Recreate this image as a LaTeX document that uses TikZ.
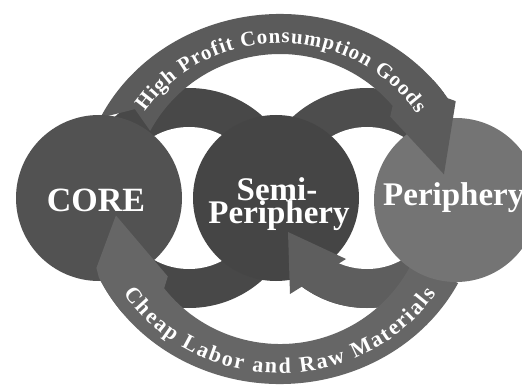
\documentclass[tikz,border=0pt]{standalone}
\usepackage{fontspec}
\setmainfont{Liberation Serif}
\usetikzlibrary{decorations.text}
\definecolor{cBandT}{HTML}{5B5B5B}
\definecolor{cBandB}{HTML}{666666}
\definecolor{cCore}{HTML}{525252}
\definecolor{cSemi}{HTML}{454545}
\definecolor{cPer}{HTML}{747474}
\definecolor{cRingL}{HTML}{484848}
\definecolor{cRingRt}{HTML}{4D4D4D}
\definecolor{cRingRb}{HTML}{5E5E5E}
\newcommand\topbandfont{\bfseries\fontsize{21}{21}\selectfont\color{white}}
\newcommand\botbandfont{\bfseries\fontsize{22}{22}\selectfont\color{white}}
\begin{document}
\begin{tikzpicture}[x=1pt,y=1pt,
  lbl/.style={text=white,font=\bfseries\fontsize{33}{33}\selectfont,inner sep=0pt},
  corelbl/.style={text=white,font=\bfseries\fontsize{34}{34}\selectfont,inner sep=0pt}]
\useasboundingbox (0,0) rectangle (522,389);
\clip (0,0) rectangle (522,389);
\fill[white] (0,0) rectangle (522,389);
\coordinate (L) at (189,191);
\coordinate (R) at (367,191);
% inner rings
\fill[cRingL] (L) circle[radius=110pt];
\fill[cRingRt] (R) circle[radius=110pt];
\fill[cRingRb] (R) ++(180:110pt) arc[start angle=180,end angle=360,radius=110pt] -- cycle;
\fill[white] (L) circle[radius=71pt];
\fill[white] (R) circle[radius=71pt];
\begin{scope}[shift={(280,190)}]
% bottom band body
\fill[cBandB] (333:200pt and 185pt) arc[start angle=333,end angle=206,x radius=200pt,y radius=185pt]
  -- (212:147pt and 145pt) arc[start angle=212,end angle=333,x radius=147pt,y radius=145pt] -- cycle;
% top band body
\fill[cBandT] (154:200pt and 185pt) arc[start angle=154,end angle=35,x radius=200pt,y radius=185pt]
  -- (38:147pt and 145pt) arc[start angle=38,end angle=152,x radius=147pt,y radius=145pt]
  -- (147:173pt and 165pt) -- cycle;
\end{scope}
% circles
\fill[cCore] (99,191) circle[radius=83pt];
\fill[cSemi] (276,191) circle[radius=83pt];
\fill[cPer] (456,189) circle[radius=82pt];
\begin{scope}[shift={(280,190)}]
% top head
\fill[cBandT] (40:200pt and 185pt) arc[start angle=40,end angle=33,x radius=200pt,y radius=185pt]
  -- (31:205pt and 190pt) -- (9:166pt and 158pt) -- (37:138pt and 137pt) -- (40:147pt and 145pt) -- cycle;
% bottom head
\fill[cBandB] (218:200pt and 185pt) arc[start angle=218,end angle=205,x radius=200pt,y radius=185pt]
  -- (202:198pt and 184pt) -- (186:165pt and 157pt) -- (215:137pt and 135pt) -- (218:147pt and 145pt) -- cycle;
% band texts
\path[decorate,decoration={text along path,text align={fit to path},
  text={|\topbandfont|High Profit Consumption Goods}}]
  (146:163pt and 156pt) arc[start angle=146,end angle=33,x radius=163pt,y radius=156pt];
\path[decorate,decoration={text along path,text align={fit to path},
  text={|\botbandfont|Cheap Labor and Raw Materials}}]
  (213:186pt and 174pt) arc[start angle=213,end angle=327,x radius=186pt,y radius=174pt];
\end{scope}
% inner arrowhead
\fill[cRingRb] (288,157) -- (346,130) -- (290,95) -- cycle;
% labels
\node[corelbl] (core) at (96,189) {CORE};
\node[lbl,anchor=base] (semi1) at (277,189) {Semi-};
\node[lbl,anchor=base] (semi2) at (279,166) {Periphery};
\node[lbl,anchor=base west] (per) at (383,184) {Periphery};
\end{tikzpicture}
\end{document}
